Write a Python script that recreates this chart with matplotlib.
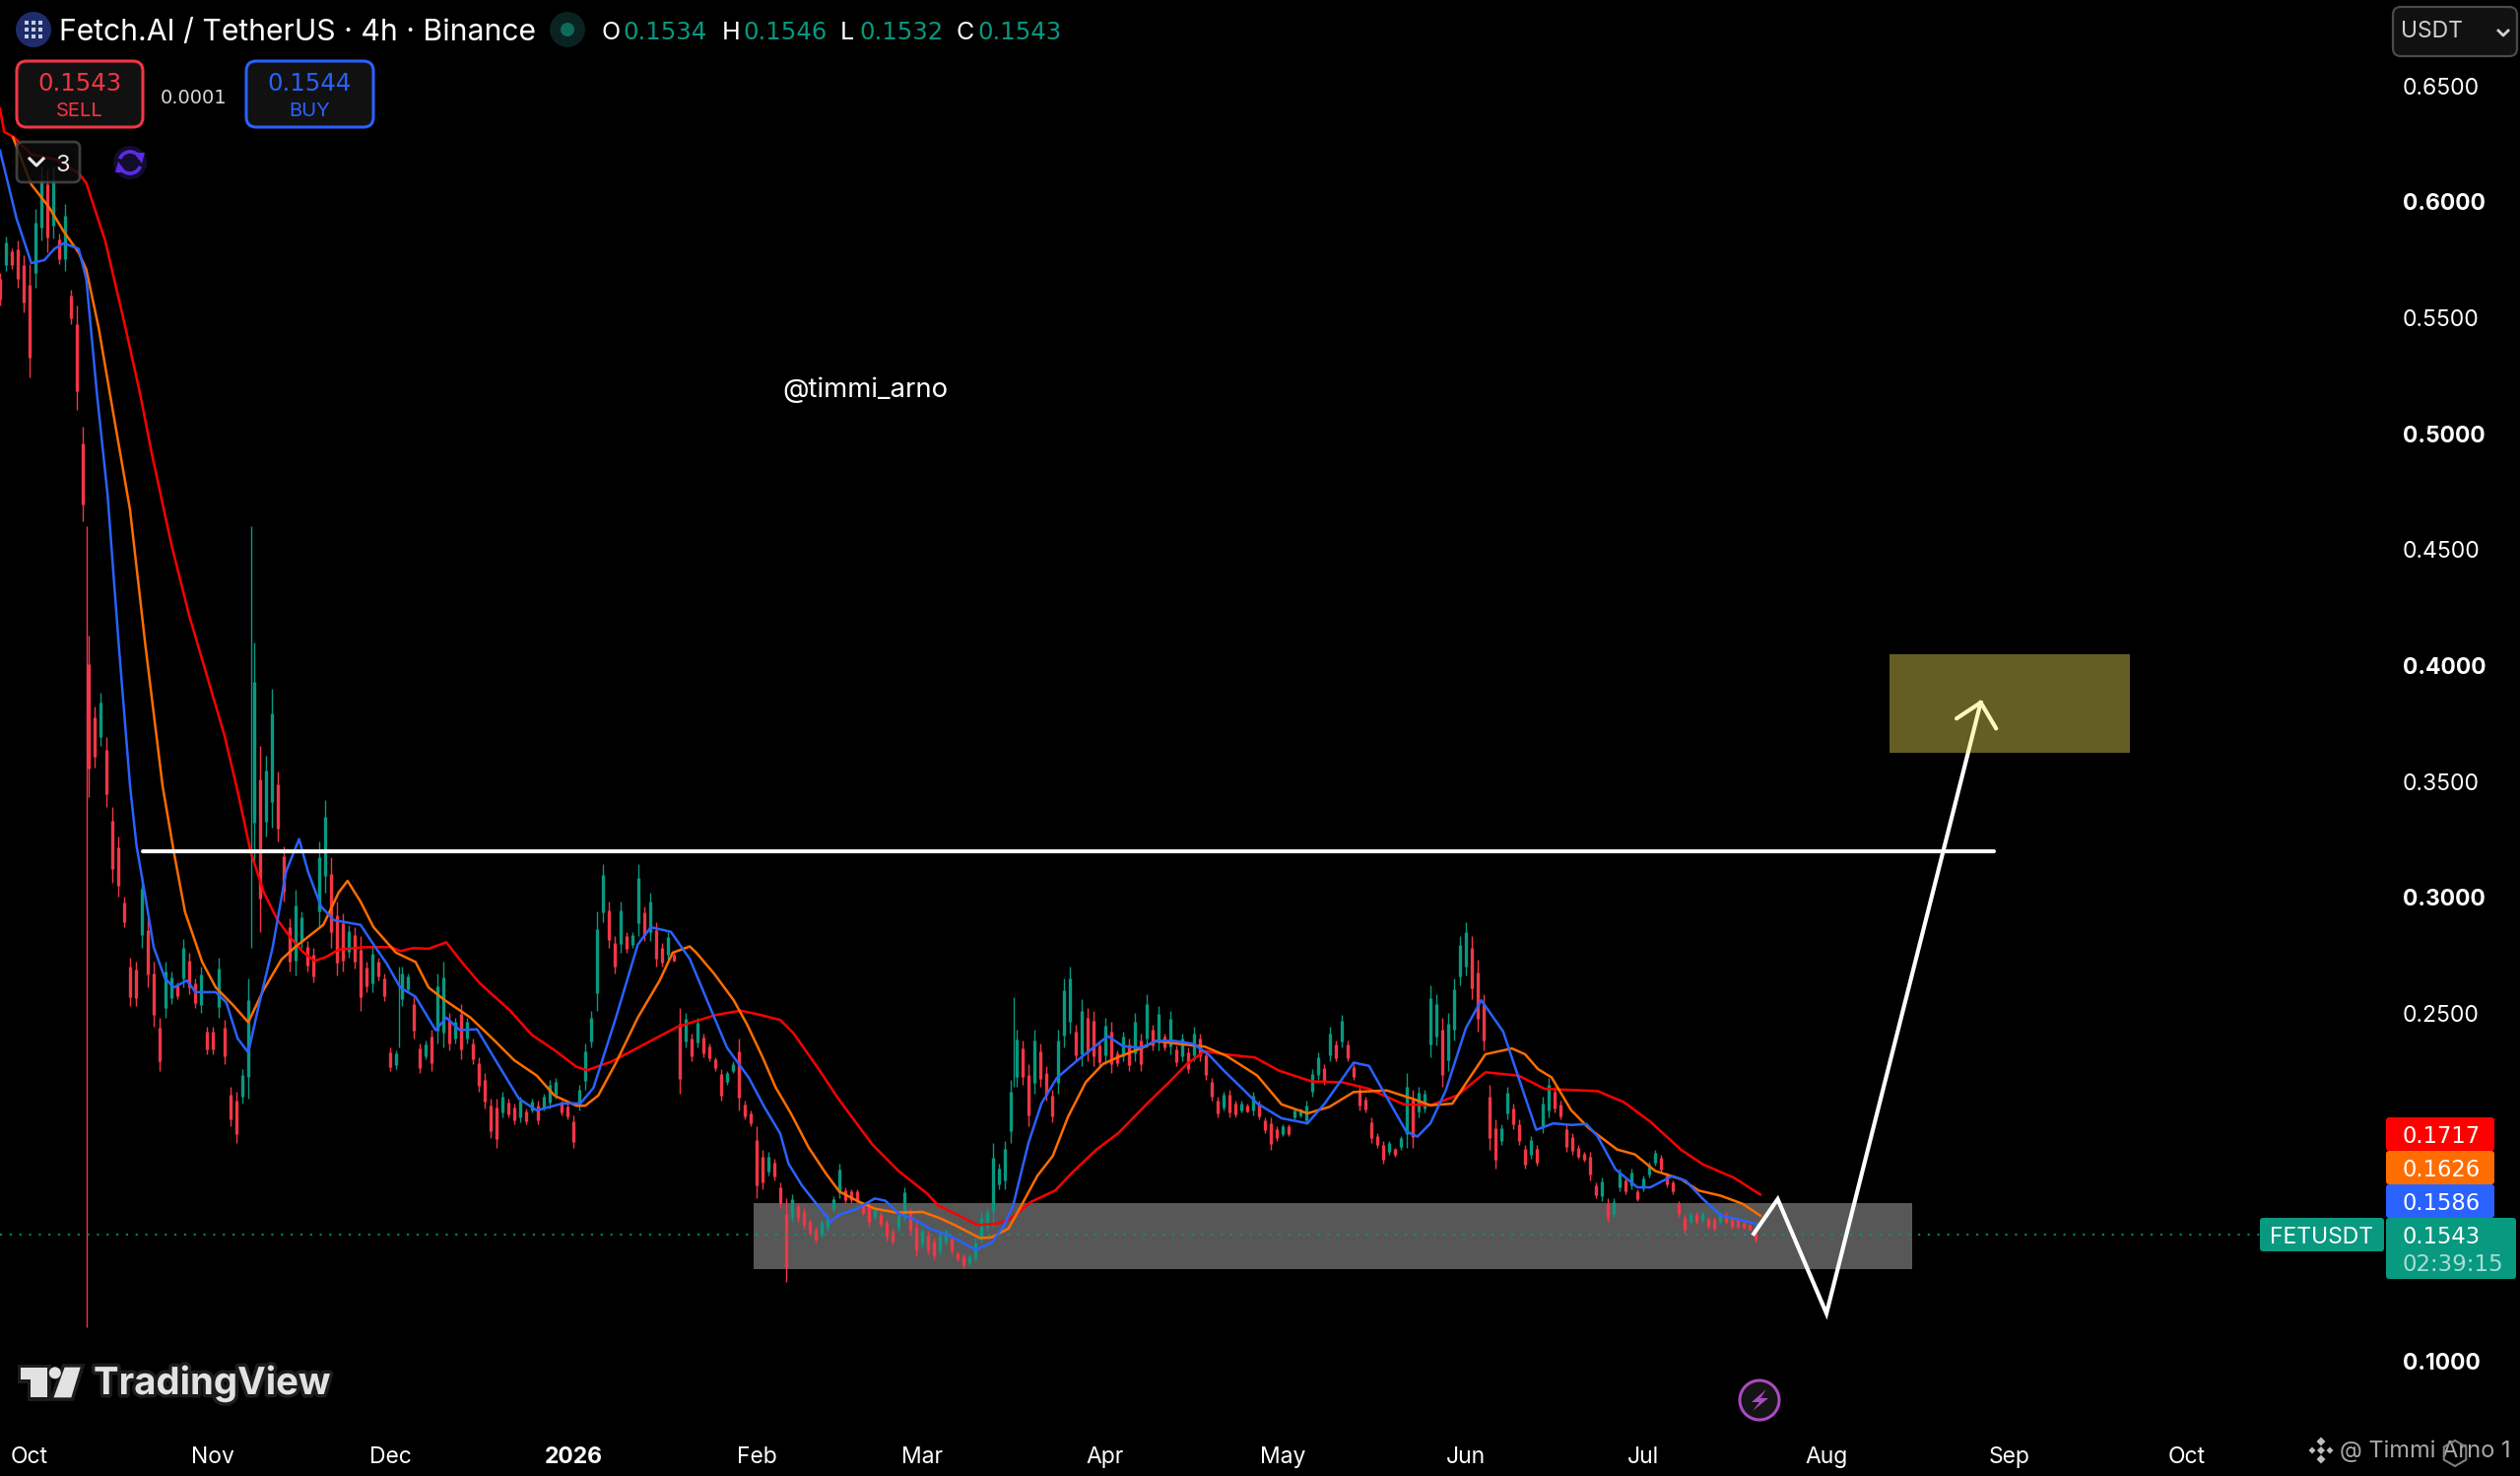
# FET/USDT 4h chart with three moving averages and drawn levels
import numpy as np
import matplotlib
matplotlib.use('Agg')
import matplotlib.pyplot as plt
import matplotlib.patheffects as pe
from matplotlib.patches import Rectangle, FancyBboxPatch, Circle, Polygon, Arc, RegularPolygon

plt.rcParams['font.family'] = ['Inter', 'DejaVu Sans']

# x is in days since 1 Oct 2025
first_candle_day = -5
highs = [
.569,.585,.580,.583,.577,.573,.597,.615,.614,.615,.586,.599,.562,.555,.503,
.413,.382,.388,.369,.339,.326,.300,.274,.272,.309,.291,.272,.248,.272,.268,
.263,.282,.276,.265,.270,.244,.244,.274,.247,.218,.216,.226,.265,.410,.365,
.361,.390,.354,.322,.291,.303,.294,.281,.278,.324,.342,.317,.298,.293,.288,
.287,.283,.272,.279,.274,.267,.235,.234,.270,.267,.257,.237,.238,.243,.267,
.272,.250,.248,.254,.248,.239,.231,.224,.213,.213,.216,.213,.211,.214,.209,
.213,.212,.215,.221,.222,.212,.211,.206,.219,.237,.251,.294,.314,.298,.283,
.298,.285,.285,.314,.296,.302,.289,.280,.285,.276,.252,.250,.241,.248,.241,
.237,.231,.226,.225,.229,.239,.212,.208,.201,.191,.190,.187,.177,.170,.172,
.168,.166,.161,.158,.161,.163,.171,.185,.175,.174,.174,.168,.168,.166,.164,
.161,.157,.164,.175,.166,.160,.157,.156,.153,.156,.157,.154,.147,.146,.146,
.153,.164,.166,.194,.185,.195,.221,.243,.238,.228,.243,.237,.227,.217,.243,
.265,.270,.245,.256,.252,.251,.238,.248,.246,.234,.242,.239,.250,.241,.258,
.245,.253,.241,.251,.236,.241,.235,.244,.241,.234,.222,.214,.216,.217,.212,
.212,.211,.216,.212,.205,.205,.201,.202,.202,.209,.209,.212,.226,.233,.228,
.244,.238,.249,.238,.228,.219,.214,.205,.198,.195,.195,.192,.197,.224,.217,
.218,.217,.262,.258,.248,.250,.265,.283,.289,.283,.273,.258,.219,.204,.202,
.218,.211,.204,.193,.197,.193,.214,.222,.218,.212,.202,.198,.193,.190,.190,
.177,.179,.170,.170,.183,.179,.183,.174,.180,.186,.191,.189,.181,.178,.169,
.163,.164,.164,.164,.162,.162,.164,.164,.162,.162,.160,.159,.157]
lows = [
.555,.570,.571,.563,.552,.524,.563,.583,.578,.584,.573,.570,.547,.510,.462,
.343,.356,.365,.339,.306,.300,.287,.253,.253,.278,.261,.244,.225,.248,.254,
.256,.261,.258,.252,.250,.232,.232,.248,.228,.201,.194,.211,.213,.315,.285,
.326,.330,.324,.298,.268,.266,.278,.268,.263,.287,.302,.278,.266,.268,.274,
.269,.251,.259,.259,.264,.255,.225,.226,.253,.259,.239,.224,.230,.225,.237,
.235,.234,.237,.230,.237,.228,.216,.209,.196,.192,.205,.205,.202,.203,.202,
.207,.202,.208,.209,.213,.206,.204,.192,.208,.217,.235,.251,.289,.278,.267,
.276,.276,.278,.283,.281,.281,.270,.270,.273,.272,.215,.235,.229,.235,.231,
.229,.225,.212,.219,.224,.208,.204,.201,.170,.174,.180,.178,.166,.134,.160,
.160,.157,.154,.151,.153,.156,.164,.170,.168,.168,.168,.163,.158,.161,.158,
.152,.150,.156,.161,.154,.145,.149,.146,.144,.146,.150,.146,.143,.140,.141,
.143,.151,.156,.158,.174,.174,.194,.218,.219,.201,.215,.218,.212,.203,.215,
.235,.241,.229,.227,.229,.227,.227,.228,.224,.227,.229,.225,.229,.225,.235,
.234,.234,.234,.232,.227,.229,.224,.229,.229,.221,.212,.205,.208,.205,.205,
.207,.207,.206,.204,.198,.191,.195,.197,.197,.204,.205,.202,.214,.221,.219,
.229,.229,.235,.229,.221,.208,.207,.194,.192,.185,.189,.188,.191,.192,.192,
.205,.207,.231,.236,.218,.225,.238,.262,.266,.256,.242,.234,.191,.183,.193,
.204,.200,.193,.183,.187,.184,.198,.205,.207,.204,.190,.189,.187,.186,.178,
.170,.169,.160,.162,.173,.172,.174,.169,.173,.179,.184,.181,.175,.172,.162,
.155,.159,.159,.160,.157,.156,.159,.159,.157,.157,.157,.156,.151]

# single long wicks that stand out from the daily envelope
spike_days = [9.7, 37.5, 166.5, 62.5]
spike_highs = [.460, .460, .257, .270]
spike_lows = [.1145, .278, .218, .235]
spike_colors = ['#F23645', '#089981', '#089981', '#089981']

ema_fast_days = [-5,-2.2,0.3,2.5,4.2,5.8,8.3,9.6,11.4,13.2,15.1,17,18.1,19.6,21,22.9,24.4,26.6,28.1,31.5,33.3,35.2,37,38.9,41.1,43.4,45.6,47.1,49.3,51.5,56,58.2,60.5,62.7,65.3,68.7,70.5,72.8,75.7,79.1,82.8,85.8,90.2,93.2,95.4,99.2,102.9,105.1,108.5,111.7,114.7,118,121.7,124.3,127,128.4,130.7,135.5,137,140,143,144.8,147,149.6,152.3,155.6,160,162.7,164.9,166.4,169,171.2,173.8,177.2,182.4,185,188,190.6,193.6,196.9,199.5,202.1,205.5,207.7,211.8,216.2,219.1,224,226.6,229.6,232.9,234.8,237,239.6,243,245.6,249.3,251.9,254.9,257.8,260.8,263.4,265.3,268.3,272,274.2,277.9,280.2,283.1,286.1,289.1,292.8]
ema_fast = [.622,.5926,.5734,.5747,.5796,.582,.5796,.5666,.517,.4735,.4085,.348,.322,.300,.2784,.265,.261,.264,.259,.259,.2545,.239,.233,.2545,.278,.311,.325,.311,.296,.290,.288,.2795,.271,.261,.257,.2426,.248,.2426,.243,.2285,.213,.208,.211,.211,.2177,.248,.2795,.287,.285,.2733,.255,.235,.222,.2095,.198,.185,.1755,.160,.163,.1656,.170,.169,.1635,.161,.157,.154,.148,.1507,.1585,.167,.194,.211,.222,.2294,.240,.2357,.235,.238,.238,.2367,.232,.225,.2166,.211,.2046,.2024,.2109,.2286,.2272,.2137,.1989,.1967,.2024,.2166,.2435,.2555,.242,.2222,.1996,.2024,.2017,.2021,.1967,.1826,.1748,.1748,.1797,.1776,.1698,.1627,.161,.1586]
ema_mid_days = [-2.8,0.3,3.3,5.8,8.3,9.6,11.7,13.6,17,19.6,22.5,24.4,26.3,29.2,31.5,34.4,37,39.6,42.6,44.9,49.7,52.3,53.8,56,58.2,62,65.3,67.5,70.2,74.6,78.7,82,85.8,88.8,92.5,94,96.2,99.2,102.9,106.6,108.8,111.7,112.8,115.8,119.1,121.4,124,126.2,128.8,131.8,134.8,137,140,143,146.7,151.1,154.1,157.1,160.8,162.7,165.6,167.5,170.5,173.1,175.7,178.7,181.6,184.3,188.3,190.6,194.3,198.8,202.5,207.7,211.8,216.2,219.9,224,229.6,234,237,240.7,243.3,246.3,250.8,253,255.2,257.5,260.8,263.8,268.6,271.6,275,279.4,282.4,286.1,289.8,292.8]
ema_mid = [.6276,.6073,.5975,.587,.578,.5706,.5454,.517,.467,.4085,.348,.3196,.2936,.272,.261,.2535,.246,.260,.273,.2784,.288,.302,.307,.298,.287,.276,.272,.261,.2556,.248,.238,.2296,.223,.2144,.210,.210,.2144,.2285,.248,.264,.276,.2787,.276,.267,.2556,.245,.231,.218,.2067,.192,.1805,.173,.169,.1656,.1639,.1642,.1614,.1578,.1529,.1532,.157,.1656,.1798,.1883,.2053,.2202,.228,.2311,.235,.2379,.2367,.2355,.2315,.223,.2106,.2067,.2095,.2159,.2166,.213,.2102,.2109,.2208,.2322,.2347,.2322,.2258,.2222,.2081,.2003,.1911,.189,.1819,.1783,.1734,.1712,.1677,.1626]
ema_slow_days = [-5,-4.3,-2.8,0.3,4.7,8.3,9.6,12.8,16.1,18.7,20.7,24,27,30,33,35.2,37.4,39.6,41.9,44.1,46.3,48.2,50,52.3,56.8,61.2,62.7,64.9,67.5,70.5,73.1,76.1,81.3,85,88.8,92.5,94.3,98.4,102.9,106.6,109.6,111.7,116.2,120.3,123.6,127,129.2,133.3,137,142.6,147,151.9,153.7,157.1,160.4,163.8,166,169.4,173.5,176.4,180.5,184.2,189.1,192.8,195.8,198.8,202.1,207.3,211.4,216.9,222.1,226.6,232.5,237,241.5,246.3,251.9,256.3,265.3,269.7,274.2,279.4,283.1,288.3,292.8]
ema_slow = [.640,.630,.628,.6203,.6179,.6122,.608,.583,.547,.517,.491,.452,.4215,.3955,.3695,.3456,.3196,.3022,.2903,.2827,.2762,.2725,.274,.2773,.2784,.2784,.2767,.278,.2777,.2805,.272,.263,.251,.2405,.234,.2268,.2253,.229,.235,.24,.244,.2457,.2492,.251,.2492,.247,.2414,.2265,.2124,.1932,.1819,.172,.167,.1628,.1585,.1592,.1614,.1685,.1734,.1812,.1911,.1982,.211,.2202,.228,.2336,.2322,.2308,.2251,.2205,.2201,.2173,.2106,.2102,.2144,.2244,.223,.2173,.2163,.2116,.2031,.191,.1847,.179,.1717]

# drawings on the chart
level_days = [19.2, 332.3]
level_price = 0.3196
grey_zone = (122.5, 318.5, 0.1395, 0.168)
target_zone = (314.7, 355.3, 0.3621, 0.4046)
path_days = [291.7, 295.75, 304, 330.1]
path_prices = [0.1548, 0.1697, 0.1204, 0.3839]
head_days = [326, 330.1, 332.7]
head_prices = [0.377, 0.3839, 0.3727]

last_price = 0.1543
price_ticks = [0.65, 0.60, 0.55, 0.50, 0.45, 0.40, 0.35, 0.30, 0.25, 0.10]
bold_ticks = [0.60, 0.50, 0.40, 0.30, 0.10]
month_days = [0, 31, 61, 92, 123, 151, 182, 212, 243, 273, 304, 335, 365]
month_labels = ['Oct', 'Nov', 'Dec', '2026', 'Feb', 'Mar', 'Apr', 'May', 'Jun', 'Jul', 'Aug', 'Sep', 'Oct']

GREEN = '#089981'
RED = '#F23645'
BLUE = '#2962FF'
ORANGE = '#FF6D00'
MA_RED = '#FF0000'
WHITE = '#FFFFFF'
DIGITS = ['DejaVu Sans']

fig = plt.figure(figsize=(25.58, 14.98), dpi=100, facecolor='black')
ax = fig.add_axes([0, 0, 1, 1], facecolor='black')
ax.set_xlim(-5, 421.33)
ax.set_ylim(0.0503, 0.6869)
ax.axis('off')

# candles
highs = np.array(highs)
lows = np.array(lows)
days = first_candle_day + np.arange(len(highs))
mids = (highs + lows) / 2
colors = [GREEN if i > 0 and mids[i] > mids[i-1] else RED for i in range(len(mids))]
body_top = lows + 0.82 * (highs - lows)
body_bot = lows + 0.18 * (highs - lows)

ax.add_patch(Rectangle((grey_zone[0], grey_zone[2]), grey_zone[1]-grey_zone[0], grey_zone[3]-grey_zone[2],
                       facecolor='#575757', edgecolor='none', zorder=1))
ax.vlines(days, lows, highs, colors=colors, lw=1.0, zorder=2)
ax.vlines(days, body_bot, body_top, colors=colors, lw=2.4, zorder=2)
ax.vlines(spike_days, spike_lows, spike_highs, colors=spike_colors, lw=1.0, zorder=2)

ax.plot(ema_slow_days, ema_slow, color=MA_RED, lw=1.8, zorder=3)
ax.plot(ema_mid_days, ema_mid, color=ORANGE, lw=1.8, zorder=3)
ax.plot(ema_fast_days, ema_fast, color=BLUE, lw=1.8, zorder=3)

ax.plot([-5, 381.3], [last_price, last_price], color=GREEN, lw=1.2, ls=(0, (1.3, 4.6)), zorder=4)

ax.plot(level_days, [level_price, level_price], color=WHITE, lw=2.9, solid_capstyle='round', zorder=5)
ax.plot(path_days, path_prices, color=WHITE, lw=3.0, solid_joinstyle='miter', zorder=5)
ax.plot(head_days, head_prices, color=WHITE, lw=3.0, solid_capstyle='round', zorder=5)
ax.add_patch(Rectangle((target_zone[0], target_zone[2]), target_zone[1]-target_zone[0], target_zone[3]-target_zone[2],
                       facecolor=(1.0, 0.93, 0.36), alpha=0.4, edgecolor='none', zorder=6))

# interface layer, in picture pixels
ui = fig.add_axes([0, 0, 1, 1], facecolor='none')
ui.set_xlim(0, 2558)
ui.set_ylim(1498, 0)
ui.axis('off')

def box(x0, y0, x1, y1, face, edge=None, r=6, lw=0, alpha=None, z=10):
    p = FancyBboxPatch((x0+r, y0+r), x1-x0-2*r, y1-y0-2*r, boxstyle='round,pad=%d,rounding_size=%d' % (r, r),
                       facecolor=face, edgecolor=edge if edge else 'none', linewidth=lw, alpha=alpha, zorder=z)
    ui.add_patch(p)

def label(x, y, s, size=16, color=WHITE, ha='left', weight='normal', z=12, **kw):
    return ui.text(x, y + 2.5, s, fontsize=size, color=color, ha=ha, va='center', fontweight=weight, zorder=z, **kw)

# header
ui.add_patch(Circle((34, 30), 18, facecolor='#1E2C6B', zorder=10))
for gx in [27, 34, 41]:
    for gy in [23, 30, 37]:
        ui.add_patch(Rectangle((gx-2, gy-2), 4, 4, facecolor='#C8CDE0', zorder=11))
label(60, 31, 'Fetch.AI / TetherUS · 4h · Binance', size=21.7)
ui.add_patch(Circle((576, 30), 18, facecolor='#0A2220', zorder=10))
ui.add_patch(Circle((576, 30), 7, facecolor='#0E6B5C', zorder=11))
for xl, xv, key, val in [(611, 632, 'O', '0.1534'), (733, 754, 'H', '0.1546'), (853, 872, 'L', '0.1532'), (971, 992, 'C', '0.1543')]:
    label(xl, 31, key, size=18)
    label(xv, 31, val, size=17.6, color=GREEN, family=DIGITS)

# buy / sell
box(17, 62, 145, 129, '#111111', RED, r=10, lw=2.2)
label(81, 83, '0.1543', size=17.6, color=RED, ha='center', family=DIGITS)
label(81, 110, 'SELL', size=14.5, color=RED, ha='center')
label(197, 97, '0.0001', size=14, color='#D8D8D8', ha='center', family=DIGITS)
box(250, 62, 379, 129, '#111111', BLUE, r=10, lw=2.2)
label(314, 83, '0.1544', size=17.6, color=BLUE, ha='center', family=DIGITS)
label(314, 110, 'BUY', size=14.5, color=BLUE, ha='center')

# collapsed indicators
box(17, 144, 81, 185, '#0C0C0C', '#4A4A4A', r=6, lw=2, alpha=0.82)
ui.plot([30, 37, 44], [161, 168, 161], color='#E8E8E8', lw=2.2, zorder=12)
label(64, 165, '3', size=17, color='#E8E8E8', ha='center')
ui.add_patch(Circle((132, 165), 17, facecolor='#120D2C', zorder=10))
ui.add_patch(Arc((132, 165), 22, 22, theta1=200, theta2=340, edgecolor='#5B2BE8', lw=2.6, zorder=11))
ui.add_patch(Arc((132, 165), 22, 22, theta1=20, theta2=160, edgecolor='#5B2BE8', lw=2.6, zorder=11))
ui.add_patch(Polygon([(136, 155), (147, 155), (144, 166)], facecolor='#5B2BE8', zorder=11))
ui.add_patch(Polygon([(128, 175), (117, 175), (120, 164)], facecolor='#5B2BE8', zorder=11))

label(794, 393, '@timmi_arno', size=19.8)

# price axis
for t in price_ticks:
    ax.annotate('%.4f' % t, xy=(2439/2558, t), xycoords=ax.get_yaxis_transform(), xytext=(0, -2),
                textcoords='offset points', fontsize=16.5, color=WHITE, va='center', ha='left',
                fontweight='bold' if t in bold_ticks else 'normal', zorder=8)
box(2429, 7, 2555, 57, '#111111', '#4A4A4A', r=8, lw=1.6)
label(2437, 30, 'USDT', size=16.5, color='#D0D0D0')
ui.plot([2536, 2541, 2546], [31, 36, 31], color='#D0D0D0', lw=2, zorder=12)

# last value tags
box(2422, 1134, 2532, 1168, MA_RED, r=3)
label(2439, 1151, '0.1717', size=16.3, family=DIGITS)
box(2422, 1168, 2532, 1202, ORANGE, r=3)
label(2439, 1185, '0.1626', size=16.3, family=DIGITS)
box(2422, 1202, 2532, 1236, BLUE, r=3)
label(2439, 1219, '0.1586', size=16.3, family=DIGITS)
box(2422, 1236, 2554, 1298, GREEN, r=3)
label(2439, 1253, '0.1543', size=16.3, family=DIGITS)
label(2439, 1281, '02:39:15', size=16.5, color='#A9DDD3', family=DIGITS)
box(2294, 1236, 2420, 1270, GREEN, r=3)
label(2357, 1253, 'FETUSDT', size=16.5, ha='center')

# time axis
for d, m in zip(month_days, month_labels):
    ax.text(d, 1 - 1479/1498, m, fontsize=16.5, color=WHITE, va='center', ha='center',
            transform=ax.get_xaxis_transform(), fontweight='bold' if m == '2026' else 'normal', zorder=8)

# TradingView mark
def tvx(z):
    return z / 2.24

def tvy(z):
    return 1350 + z / 3

logo_color = '#E2E2E2'
halo = [pe.withStroke(linewidth=5, foreground='#1C1C1C')]
logo_t = Polygon([(tvx(48), tvy(113)), (tvx(107), tvy(113)), (tvx(107), tvy(205)), (tvx(70), tvy(205)), (tvx(70), tvy(150)), (tvx(48), tvy(150))],
                 facecolor=logo_color, zorder=11, path_effects=halo)
logo_v = Polygon([(tvx(147), tvy(113)), (tvx(183), tvy(113)), (tvx(162), tvy(205)), (tvx(122), tvy(205))],
                 facecolor=logo_color, zorder=11, path_effects=halo)
ui.add_patch(logo_t)
ui.add_patch(logo_v)
ui.add_patch(Circle((tvx(125), tvy(130)), 6, facecolor=logo_color, zorder=12))
label(95, 1402, 'TradingView', size=27.6, color=logo_color, weight='bold', path_effects=halo)

# lightning button
ui.add_patch(Circle((1786, 1421), 20, facecolor='#141414', edgecolor='#A94BC0', lw=2.2, zorder=10))
ui.add_patch(Polygon([(1793, 1410), (1778, 1423), (1786, 1423), (1779, 1432), (1795, 1419), (1787, 1419)],
                     facecolor='#A94BC0', zorder=11))

# author credit, bottom right
for dx, dy, s in [(0, -9, 4.5), (-9, 0, 3.5), (9, 0, 3.5), (0, 9, 4.5), (0, 0, 4)]:
    cx, cy = 2356 + dx, 1472 + dy
    ui.add_patch(Polygon([(cx, cy-s), (cx+s, cy), (cx, cy+s), (cx-s, cy)], facecolor='#BDBDBD', zorder=11))
label(2375, 1470, '@ Timmi Arno 1', size=17, color='#A8A8A8')
ui.add_patch(RegularPolygon((2492, 1475), 6, radius=13, facecolor='none', edgecolor='#808080', lw=1.5, zorder=13))

fig.savefig('out.png', dpi=100, facecolor='black')
